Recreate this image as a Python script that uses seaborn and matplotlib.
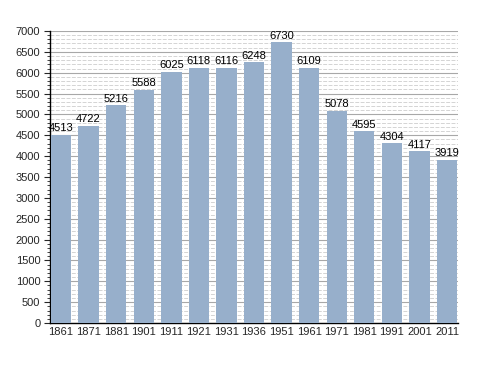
import matplotlib
matplotlib.use("Agg")
import matplotlib.pyplot as plt
import seaborn as sns
import pandas as pd
from matplotlib.ticker import MultipleLocator

years = ["1861", "1871", "1881", "1901", "1911", "1921", "1931", "1936",
         "1951", "1961", "1971", "1981", "1991", "2001", "2011"]
population = [4513, 4722, 5216, 5588, 6025, 6118, 6116, 6248,
              6730, 6109, 5078, 4595, 4304, 4117, 3919]

df = pd.DataFrame({"year": years, "pop": population})

sns.set_style("white")
plt.rcParams["font.family"] = ["Liberation Sans", "DejaVu Sans"]

fig = plt.figure(figsize=(4.88, 3.73), dpi=100)
ax = fig.add_axes([0.1025, 0.134, 0.836, 0.783])

sns.barplot(data=df, x="year", y="pop", color="#97afcb", saturation=1,
            width=0.74, ax=ax, zorder=3, linewidth=0)

ax.set_ylim(0, 7000)
ax.set_xlim(-0.4, 14.4)
ax.yaxis.set_major_locator(MultipleLocator(500))
ax.yaxis.set_minor_locator(MultipleLocator(100))
ax.grid(axis="y", which="major", color="#a8a8a8", linewidth=0.8, zorder=0)
ax.grid(axis="y", which="minor", color="#d4d4d4", linewidth=0.7,
        linestyle=(0, (4, 1.5)), zorder=0)
ax.set_axisbelow(True)

for s in ["top", "right"]:
    ax.spines[s].set_visible(False)
for s in ["left", "bottom"]:
    ax.spines[s].set_color("black")
    ax.spines[s].set_linewidth(1.0)

ax.tick_params(axis="y", which="major", length=4, width=0.8, direction="out",
               labelsize=8, left=True, pad=3)
ax.tick_params(axis="y", which="minor", length=2, width=0.6, direction="out",
               left=True)
ax.tick_params(axis="x", which="both", length=0, labelsize=8, pad=3)

ax.set_xlabel("")
ax.set_ylabel("")

for i, v in enumerate(population):
    ax.text(i, v + 40, str(v), ha="center", va="bottom", fontsize=8,
            color="black", zorder=5)

fig.savefig("out.png", dpi=100)
